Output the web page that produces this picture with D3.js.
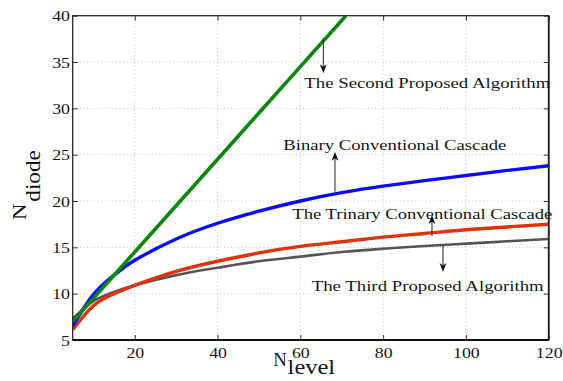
<!DOCTYPE html>
<html>
<head>
<meta charset="utf-8">
<script src="https://cdn.jsdelivr.net/npm/d3@7/dist/d3.min.js"></script>
<style>
  html, body { margin: 0; padding: 0; background: #fff; }
  svg { display: block; }
  text { font-family: "Liberation Serif", "DejaVu Serif", serif; fill: #151515; }
</style>
</head>
<body>
<svg id="chart" width="563" height="381"></svg>
<script>
// Number of diodes needed versus number of output levels
const nLevel = [5, 10, 15, 20, 30, 40, 50, 60, 70, 80, 90, 100, 110, 120];
const binaryCascade  = [6.5, 9.9, 12.0, 13.6, 15.9, 17.6, 18.9, 20.0, 20.9, 21.6, 22.2, 22.75, 23.3, 23.8];
const trinaryCascade = [6.1, 8.7, 10.0, 10.9, 12.4, 13.5, 14.4, 15.1, 15.6, 16.1, 16.5, 16.9, 17.2, 17.5];
const thirdProposed  = [7.3, 9.2, 10.2, 10.9, 12.0, 12.8, 13.5, 14.0, 14.5, 14.85, 15.15, 15.4, 15.65, 15.9];
const secondLevel    = [5, 20, 40, 60, 71];
const secondProposed = [7, 14.5, 24.5, 34.5, 40];

const xTicks = [20, 40, 60, 80, 100, 120];
const yTicks = [5, 10, 15, 20, 25, 30, 35, 40];

// Annotations: label text with baseline anchor, and arrow from curve to label
const labels = [
  { text: "The Second Proposed Algorithm",     x: 60.95, y: 32.2,  len: 246 },
  { text: "Binary Conventional Cascade",       x: 55.88, y: 25.5,  len: 223 },
  { text: "The Trinary Conventional Cascade",  x: 58.05, y: 18.03, len: 260 },
  { text: "The Third Proposed Algorithm",      x: 62.74, y: 10.29, len: 232 }
];
const arrows = [
  { x: 65.55, from: 37.56, to: 33.78 },
  { x: 68.37, from: 21.0,  to: 25.32 },
  { x: 91.8,  from: 16.22, to: 18.49 },
  { x: 94.46, from: 15.25, to: 12.34 }
];

const svg = d3.select("#chart");
const pL = 72.7, pR = 548.7, pT = 15.7, pB = 340;

const x = d3.scaleLinear().domain([5, 120]).range([pL, pR]);
const y = d3.scaleLinear().domain([5, 40]).range([pB, pT]);

// dotted grid
const grid = svg.append("g").attr("stroke", "#b8b8b8").attr("stroke-width", 0.9)
  .attr("stroke-dasharray", "1,2.6");
grid.selectAll(".gx").data(xTicks.filter(d => d < 120)).join("line")
  .attr("x1", d => x(d)).attr("x2", d => x(d)).attr("y1", pT).attr("y2", pB);
grid.selectAll(".gy").data(yTicks.filter(d => d > 5 && d < 40)).join("line")
  .attr("x1", pL).attr("x2", pR).attr("y1", d => y(d)).attr("y2", d => y(d));

// curves
svg.append("clipPath").attr("id", "plot-clip").append("rect")
  .attr("x", pL).attr("y", pT).attr("width", pR - pL).attr("height", pB - pT);

const line = d3.line().curve(d3.curveNatural).x(d => x(d[0])).y(d => y(d[1]));
const series = [
  { xs: nLevel, ys: thirdProposed,  color: "#555555", w: 2.6 },
  { xs: nLevel, ys: trinaryCascade, color: "#e0300c", w: 3.4 },
  { xs: nLevel, ys: binaryCascade,  color: "#0a0aff", w: 3.4 },
  { xs: secondLevel, ys: secondProposed, color: "#0a870a", w: 3.6 }
];
const plot = svg.append("g").attr("clip-path", "url(#plot-clip)");
series.forEach(s => {
  plot.append("path")
    .datum(s.xs.map((v, i) => [v, s.ys[i]]))
    .attr("fill", "none").attr("stroke", s.color).attr("stroke-width", s.w)
    .attr("stroke-linejoin", "round")
    .attr("d", line);
});

// axes with inward ticks on all four sides
const sx = 1.15;
const axB = svg.append("g").attr("transform", `translate(0,${pB})`)
  .call(d3.axisBottom(x).tickValues(xTicks).tickSize(-5).tickPadding(7).tickSizeOuter(0));
const axT = svg.append("g").attr("transform", `translate(0,${pT})`)
  .call(d3.axisTop(x).tickValues(xTicks).tickSize(-5).tickFormat("").tickSizeOuter(0));
const axL = svg.append("g").attr("transform", `translate(${pL},0)`)
  .call(d3.axisLeft(y).tickValues(yTicks).tickSize(-5).tickPadding(2.4).tickSizeOuter(0));
const axR = svg.append("g").attr("transform", `translate(${pR},0)`)
  .call(d3.axisRight(y).tickValues(yTicks).tickSize(-5).tickFormat("").tickSizeOuter(0));

[axB, axT, axL, axR].forEach(a => {
  a.select(".domain").remove();
  a.selectAll(".tick line").attr("stroke", "#333").attr("stroke-width", 1);
  a.selectAll(".tick text").attr("font-family", "Liberation Serif").attr("font-size", 15.5)
    .attr("fill", "#1c1c1c").attr("transform", `scale(${sx},1)`);
});
axL.selectAll(".tick text").attr("dy", "0.34em");
axB.selectAll(".tick text").attr("dy", "0.68em");

// frame
svg.append("rect").attr("x", pL).attr("y", pT).attr("width", pR - pL).attr("height", pB - pT)
  .attr("fill", "none").attr("stroke", "#2a2a2a").attr("stroke-width", 1.3);
svg.append("line").attr("x1", pL).attr("x2", pR).attr("y1", pB).attr("y2", pB)
  .attr("stroke", "#111").attr("stroke-width", 1.8);
svg.append("line").attr("x1", pR).attr("x2", pR).attr("y1", pT).attr("y2", pB)
  .attr("stroke", "#222").attr("stroke-width", 1.8);

// annotation labels
svg.append("g").selectAll("text").data(labels).join("text")
  .attr("x", d => x(d.x)).attr("y", d => y(d.y))
  .attr("font-size", 15.5).attr("fill", "#1c1c1c")
  .attr("textLength", d => d.len).attr("lengthAdjust", "spacingAndGlyphs")
  .text(d => d.text);

// annotation arrows
const ag = svg.append("g");
arrows.forEach(a => {
  const px = x(a.x), y0 = y(a.from), y1 = y(a.to);
  const dir = y1 > y0 ? 1 : -1;
  ag.append("line").attr("x1", px).attr("x2", px).attr("y1", y0).attr("y2", y1 - dir * 4)
    .attr("stroke", "#222").attr("stroke-width", 1);
  ag.append("path")
    .attr("d", `M${px},${y1} L${px - 3.4},${y1 - dir * 9} L${px},${y1 - dir * 6.5} L${px + 3.4},${y1 - dir * 9} Z`)
    .attr("fill", "#111");
});

// axis titles with subscripts
const xt = svg.append("g");
xt.append("text").attr("x", 273.3).attr("y", 366).attr("font-size", 19)
  .attr("textLength", 13.6).attr("lengthAdjust", "spacingAndGlyphs").text("N");
xt.append("text").attr("x", 287.6).attr("y", 373.6).attr("font-size", 21)
  .attr("textLength", 47.5).attr("lengthAdjust", "spacingAndGlyphs").text("level");

const yt = svg.append("g").attr("transform", "translate(26,220) rotate(-90)");
yt.append("text").attr("x", 0).attr("y", 0).attr("font-size", 19)
  .attr("textLength", 16.5).attr("lengthAdjust", "spacingAndGlyphs").text("N");
yt.append("text").attr("x", 18.3).attr("y", 14).attr("font-size", 20)
  .attr("textLength", 51.5).attr("lengthAdjust", "spacingAndGlyphs").text("diode");
</script>
</body>
</html>
